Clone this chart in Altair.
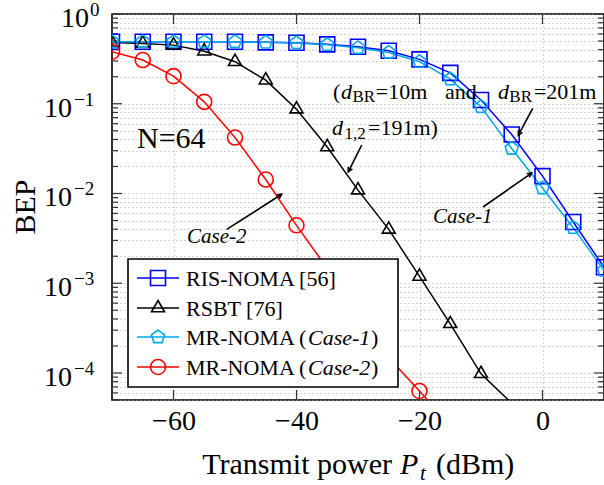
import math
import altair as alt
import pandas as pd

FONT = "Liberation Serif, Times New Roman, DejaVu Serif, serif"

# ---------------- data ----------------
power = [-70, -65, -60, -55, -50, -45, -40, -35, -30, -25, -20, -15, -10, -5, 0, 5, 10]
ris_noma = [0.49, 0.49, 0.49, 0.49, 0.49, 0.483, 0.478, 0.459, 0.431, 0.389, 0.312,
            0.221, 0.11, 0.0454, 0.0156, 0.00481, 0.00151]
rsbt = [0.48, 0.47, 0.45, 0.385, 0.294, 0.183, 0.087, 0.033, 0.0109, 0.00398, 0.00119,
        3.53e-4, 9.8e-5, 4.6e-5]
mr_case1 = [0.49, 0.49, 0.49, 0.49, 0.49, 0.483, 0.476, 0.455, 0.42, 0.373, 0.294,
            0.188, 0.0924, 0.0317, 0.0115, 0.00416, 0.00139]
mr_case2 = [0.38, 0.307, 0.203, 0.105, 0.042, 0.0143, 0.00442, 0.00146, 4.6e-4,
            1.48e-4, 6.3e-5, 2.6e-5]

series_names = ["RIS-NOMA [56]", "RSBT [76]", "MR-NOMA (Case-1)", "MR-NOMA (Case-2)"]
series_values = [ris_noma, rsbt, mr_case1, mr_case2]
colors = ["#0000ff", "#000000", "#00a8ec", "#ff0000"]

SQUARE = "M-1,-1L1,-1L1,1L-1,1Z"
TRIANGLE = "M0,-1L0.866,0.5L-0.866,0.5Z"
PENTAGON = "M0,-0.92L0.875,-0.284L0.541,0.744L-0.541,0.744L-0.875,-0.284Z"
CIRCLE = "M1,0A1,1,0,1,1,-1,0A1,1,0,1,1,1,0Z"
ARROW = "M-0.45,0.9L0,0L0.45,0.9"
shapes = [SQUARE, TRIANGLE, PENTAGON, CIRCLE]

x_ticks = [-60, -40, -20, 0]
decades = [0, -1, -2, -3, -4]

# annotations (data coordinates)
arrow_tail_x = [-51.35, -9.67, -29.4, -1.59]
arrow_tail_y = [3.98e-3, 7.07e-3, 0.0345, 0.0886]
arrow_head_x = [-42.41, -1.76, -31.58, -3.93]
arrow_head_y = [9.8e-3, 1.69e-2, 0.0174, 0.0446]

roman_text = ["(", "=10m", "and", "=191m)", "=201m"]
roman_x = [-34.07, -27.1, -15.85, -28.37, -1.4]
roman_y = [0.1125, 0.1125, 0.1125, 0.04464, 0.1125]
italic_text = ["d", "d", "d"]
italic_x = [-32.76, -34.23, -7.24]
italic_y = [0.1125, 0.04464, 0.1125]
sub_text = ["BR", "1,2", "BR"]
sub_x = [-30.9, -32.2, -5.4]
sub_y = [0.1042, 0.04027, 0.1042]
case_text = ["Case-2", "Case-1"]
case_x = [-57.8, -17.8]
case_y = [2.78e-3, 4.65e-3]
n_text = ["N=64"]
n_x = [-65.93]
n_y = [0.03194]

# ---------------- layout ----------------
W, H = 492, 386
XMIN, XMAX = -70, 10
YMIN, YMAX = 5e-5, 1.0

xs = alt.Scale(domain=[XMIN, XMAX], nice=False, zero=False)
ys = alt.Scale(type="log", domain=[YMIN, YMAX], nice=False)

y_grid = [k * 10 ** e for e in range(-5, 0) for k in range(1, 10) if k * 10 ** e >= YMIN] + [1.0]
y_major = [10.0 ** e for e in decades]
y_minor = [v for v in y_grid if all(abs(v - m) > 1e-12 for m in y_major)]

GRID = dict(grid=True, gridDash=[1, 3], gridColor="#a8a8a8", gridWidth=1,
            ticks=False, domain=False, title=None)
xaxis = alt.Axis(values=x_ticks, labelFont=FONT, labelFontSize=28, labelColor="black",
                 labelPadding=7, **GRID)
yaxis = alt.Axis(values=y_grid, labels=False, **GRID)


def X(f):
    return alt.X(f, type="quantitative", scale=xs, axis=xaxis)


def Y(f):
    return alt.Y(f, type="quantitative", scale=ys, axis=yaxis)


rows = []
for name, vals in zip(series_names, series_values):
    for p, v in zip(power, vals):
        rows.append({"series": name, "power": p, "bep": v})
df = pd.DataFrame(rows)

color = alt.Color("series:N", scale=alt.Scale(domain=series_names, range=colors), legend=None)
shape = alt.Shape("series:N", scale=alt.Scale(domain=series_names, range=shapes), legend=None)

layers = []

# inward tick marks
tick_len = [("minor", y_minor, 6), ("major", y_major, 10)]
for _, vals, ln in tick_len:
    tdf = pd.DataFrame({"v": vals})
    layers.append(alt.Chart(tdf).mark_rule(color="#333333", strokeWidth=1.2).encode(
        y=Y("v"), x=alt.value(0), x2=alt.value(ln)))
    layers.append(alt.Chart(tdf).mark_rule(color="#333333", strokeWidth=1.2).encode(
        y=Y("v"), x=alt.value(W - ln), x2=alt.value(W)))
xt = pd.DataFrame({"v": x_ticks})
layers.append(alt.Chart(xt).mark_rule(color="#333333", strokeWidth=1.2).encode(
    x=X("v"), y=alt.value(H - 10), y2=alt.value(H)))
layers.append(alt.Chart(xt).mark_rule(color="#333333", strokeWidth=1.2).encode(
    x=X("v"), y=alt.value(0), y2=alt.value(10)))

# series
layers.append(alt.Chart(df).mark_line(strokeWidth=1.5, clip=True).encode(
    x=X("power"), y=Y("bep"), color=color, detail="series:N"))
layers.append(alt.Chart(df).transform_filter(alt.datum.bep >= YMIN).mark_point(
    filled=False, size=225, strokeWidth=1.6, opacity=1, clip=True).encode(
    x=X("power"), y=Y("bep"), color=color, shape=shape))

# arrows
def px(x):
    return (x - XMIN) / (XMAX - XMIN) * W


def py(y):
    return (math.log10(YMAX) - math.log10(y)) / (math.log10(YMAX) - math.log10(YMIN)) * H


angles = []
for x1, y1, x2, y2 in zip(arrow_tail_x, arrow_tail_y, arrow_head_x, arrow_head_y):
    dx = px(x2) - px(x1)
    dy = py(y2) - py(y1)
    angles.append(math.degrees(math.atan2(dx, -dy)) % 360)
adf = pd.DataFrame({"x1": arrow_tail_x, "y1": arrow_tail_y, "x2": arrow_head_x,
                    "y2": arrow_head_y, "ang": angles})
layers.append(alt.Chart(adf).mark_rule(color="black", strokeWidth=1.6).encode(
    x=X("x1"), y=Y("y1"), x2="x2:Q", y2="y2:Q"))
layers.append(alt.Chart(adf).mark_point(shape=ARROW, size=100, filled=False, color="black",
                                        strokeWidth=1.6, opacity=1).encode(
    x=X("x2"), y=Y("y2"), angle=alt.Angle("ang:Q", scale=None)))

# text annotations
def text_layer(texts, xv, yv, size, style="normal"):
    tdf = pd.DataFrame({"t": texts, "x": xv, "y": yv})
    return alt.Chart(tdf).mark_text(font=FONT, fontSize=size, fontStyle=style, align="left",
                                    baseline="alphabetic", color="black").encode(
        x=X("x"), y=Y("y"), text="t:N")


layers.append(text_layer(roman_text, roman_x, roman_y, 22))
layers.append(text_layer(italic_text, italic_x, italic_y, 22, "italic"))
layers.append(text_layer(sub_text, sub_x, sub_y, 17))
layers.append(text_layer(case_text, case_x, case_y, 21, "italic"))
layers.append(text_layer(n_text, n_x, n_y, 30))

# y tick labels 10^e
for sel, ten_x, exp_x in [(lambda e: e == 0, -23, -22), (lambda e: e != 0, -40, -38)]:
    es = [e for e in decades if sel(e)]
    ldf = pd.DataFrame({"v": [10.0 ** e for e in es],
                        "base": ["10"] * len(es),
                        "ex": [str(e).replace("-", "\u2212") for e in es]})
    layers.append(alt.Chart(ldf).mark_text(font=FONT, fontSize=28, align="right",
                                           baseline="alphabetic", dy=13, color="black").encode(
        y=Y("v"), x=alt.value(ten_x), text="base:N"))
    layers.append(alt.Chart(ldf).mark_text(font=FONT, fontSize=19, align="left",
                                           baseline="alphabetic", dy=2, color="black").encode(
        y=Y("v"), x=alt.value(exp_x), text="ex:N"))

# axis titles
def fixed_text(t, x, y, size, style="normal", align="left", angle=0, baseline="alphabetic"):
    return alt.Chart(pd.DataFrame({"t": [t]})).mark_text(
        font=FONT, fontSize=size, fontStyle=style, align=align, baseline=baseline,
        angle=angle, color="black").encode(x=alt.value(x), y=alt.value(y), text="t:N")


layers.append(fixed_text("Transmit power", 280, 460, 30, align="right"))
layers.append(fixed_text("P", 288, 460, 30, style="italic"))
layers.append(fixed_text("t", 308, 466, 21, style="italic"))
layers.append(fixed_text("(dBm)", 324, 460, 30))
layers.append(fixed_text("BEP", -86, 193, 30, align="center", angle=270, baseline="middle"))

# legend
LEG_X0, LEG_X1, LEG_Y0, LEG_Y1 = 16, 286, 245, 373
row_y = [264, 294, 323, 353]
layers.append(alt.Chart(pd.DataFrame({"a": [0]})).mark_rect(
    fill="white", stroke="black", strokeWidth=1.6).encode(
    x=alt.value(LEG_X0), x2=alt.value(LEG_X1), y=alt.value(LEG_Y0), y2=alt.value(LEG_Y1)))
one = pd.DataFrame({"a": [0]})
for i, name in enumerate(series_names):
    yy = row_y[i]
    layers.append(alt.Chart(one).mark_rule(color=colors[i], strokeWidth=1.5).encode(
        x=alt.value(25), x2=alt.value(67), y=alt.value(yy)))
    layers.append(alt.Chart(one).mark_point(shape=shapes[i], size=225, filled=False,
                                            color=colors[i], strokeWidth=1.6, opacity=1).encode(
        x=alt.value(46), y=alt.value(yy)))
    if "(" in name:
        head, rest = name.split("(")
        case = rest.rstrip(")")
        layers.append(fixed_text(head + "(", 74, yy + 8, 22))
        layers.append(fixed_text(case, 196, yy + 8, 22, style="italic"))
        layers.append(fixed_text(")", 259, yy + 8, 22))
    else:
        layers.append(fixed_text(name, 74, yy + 8, 22))

chart = alt.layer(*layers).properties(
    width=W, height=H,
    autosize=alt.AutoSizeParams(type="none"),
    padding={"left": 112, "top": 14, "right": 0, "bottom": 85},
    background="white",
).configure_view(stroke="black", strokeWidth=1.6)

chart.save("out.html", embed_options={"renderer": "svg", "actions": False})
